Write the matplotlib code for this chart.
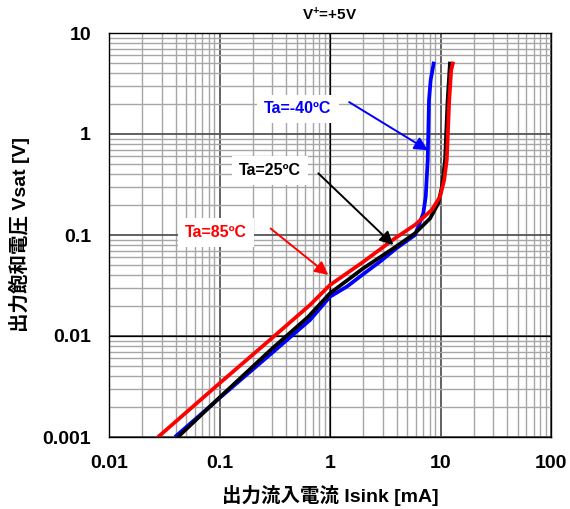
import numpy as np
import matplotlib.pyplot as plt
from matplotlib.ticker import FuncFormatter, LogLocator

plt.rcParams['font.family'] = ['Liberation Sans', 'Noto Sans CJK JP']
plt.rcParams['font.weight'] = 'bold'
plt.rcParams['mathtext.fontset'] = 'custom'
plt.rcParams['mathtext.bf'] = 'Liberation Sans:bold'
plt.rcParams['mathtext.rm'] = 'Liberation Sans:bold'

# sink current [mA] vs saturation voltage [V]
i_m40 = [0.0395, 0.1, 0.3, 0.659, 1.0, 1.42, 2.0, 2.83, 4.0, 5.88, 6.99, 7.35, 7.66, 7.87, 8.15, 8.73]
v_m40 = [0.001, 0.00243, 0.00683, 0.0144, 0.0245, 0.0308, 0.041, 0.0544, 0.074, 0.1, 0.164, 0.24, 0.553, 2.17, 3.43, 5.2]

i_25 = [0.0421, 0.1, 0.3, 0.632, 1.0, 2.0, 3.87, 5.88, 8.05, 9.55, 10.3, 11.0, 11.6, 12.2]
v_25 = [0.001, 0.00246, 0.00752, 0.0154, 0.0265, 0.0468, 0.0755, 0.104, 0.146, 0.206, 0.301, 0.553, 2.17, 5.2]

i_85 = [0.0278, 0.1, 0.3, 0.659, 1.0, 1.99, 3.87, 5.88, 8.33, 9.9, 10.8, 11.4, 12.0, 12.5, 13.06]
v_85 = [0.001, 0.0034, 0.00958, 0.0203, 0.032, 0.054, 0.0927, 0.126, 0.177, 0.239, 0.35, 0.553, 2.17, 4.3, 5.2]

labels = ['Ta=-40ºC', 'Ta=25ºC', 'Ta=85ºC']
colors = ['#0000ff', '#000000', '#ff0000']

fig = plt.figure(figsize=(5.7, 5.09), dpi=100)
ax = fig.add_axes([109 / 570, 1 - 437 / 509, 442 / 570, 404 / 509])
ax.set_xscale('log')
ax.set_yscale('log')
ax.set_xlim(0.01, 100)
ax.set_ylim(0.001, 10)

ax.xaxis.set_minor_locator(LogLocator(base=10, subs=np.arange(2, 10)))
ax.yaxis.set_minor_locator(LogLocator(base=10, subs=np.arange(2, 10)))
ax.grid(which='minor', color='#a6a6a6', lw=1.0, zorder=0)
ax.grid(which='major', color='#555555', lw=1.3, zorder=0)
ax.axvline(1, color='k', lw=0.9, zorder=1)
ax.axhline(0.01, color='k', lw=0.9, zorder=1)
ax.set_axisbelow(True)

fmt = FuncFormatter(lambda v, _: f'{v:g}')
ax.xaxis.set_major_formatter(fmt)
ax.yaxis.set_major_formatter(fmt)
ax.tick_params(which='both', length=0, labelsize=14, pad=13)
for t in ax.get_xticklabels() + ax.get_yticklabels():
    t.set_fontweight('bold')

# curves (red on top)
for xs, ys, c, z in [(i_m40, v_m40, colors[0], 3), (i_25, v_25, colors[1], 4),
                     (i_85, v_85, colors[2], 5)]:
    ax.plot(xs, ys, color=c, lw=2.7, zorder=z,
            solid_capstyle='butt', solid_joinstyle='round')

# labels with arrows
txt_pos = [(0.513, 1.77), (0.286, 0.433), (0.093, 0.105)]
arr_from = [(1.49, 2.07), (0.784, 0.408), (0.29, 0.116)]
arr_to = [(7.7, 0.69), (3.74, 0.0796), (0.966, 0.0402)]
for lab, c, tp, a0, a1 in zip(labels, colors, txt_pos, arr_from, arr_to):
    ax.text(tp[0], tp[1], lab, color=c, fontsize=11.5, fontweight='bold',
            ha='center', va='center', zorder=6,
            bbox=dict(facecolor='white', edgecolor='none', pad=5))
    ax.annotate('', xy=a1, xytext=a0, zorder=7,
                arrowprops=dict(arrowstyle='-|>', color=c, lw=1.4,
                                mutation_scale=20, shrinkA=0, shrinkB=0))

for s in ax.spines.values():
    s.set_color('k')
    s.set_linewidth(1.0)
    s.set_zorder(8)

ax.set_xlabel('出力流入電流 Isink [mA]', fontsize=14, fontweight='bold')
ax.set_ylabel('出力飽和電圧 Vsat [V]', fontsize=14, fontweight='bold')
ax.xaxis.set_label_coords(0.5, -0.118)
ax.yaxis.set_label_coords(-0.178, 0.5)

fig.text(0.578, 1 - 15 / 509, r'V$\mathbf{^{+}}$=+5V', fontsize=11,
         fontweight='bold', ha='center', va='center')

plt.savefig('out.png', dpi=100)
